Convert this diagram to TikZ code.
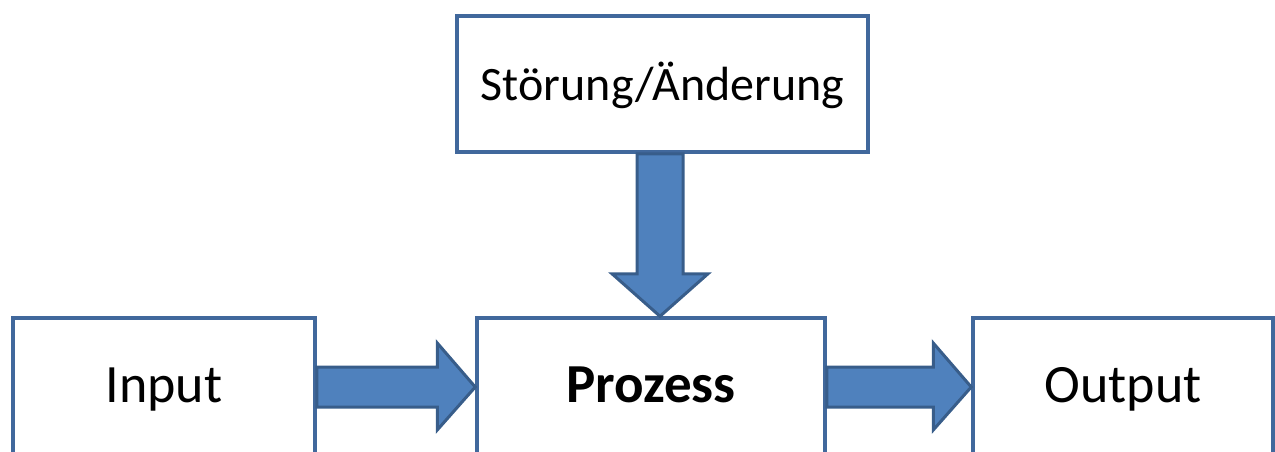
\documentclass[tikz,border=0pt]{standalone}
\usepackage{fontspec}
\setmainfont{Carlito}
\usetikzlibrary{calc}
\definecolor{boxline}{HTML}{41689C}
\definecolor{arrowfill}{HTML}{4F81BD}
\definecolor{arrowline}{HTML}{385D8A}
\tikzset{
  x=1pt, y=-1pt,
  block/.style={draw=boxline, line width=3.5pt, fill=white, rectangle,
    inner sep=0pt, text height=32pt, text depth=0pt,
    font=\fontsize{48}{56}\selectfont},
  lowblock/.style={block, minimum height=138pt, text height=30pt,
    font=\fontsize{54}{62}\selectfont},
  fatarrow/.style={fill=arrowfill, draw=arrowline, line width=3pt, line join=miter}
}
\begin{document}
\begin{tikzpicture}
\useasboundingbox (0,0) rectangle (1275,451);
\clip (0,0) rectangle (1275,451);
% boxes
\node[block, minimum width=411pt, minimum height=136pt] (stoer) at (662.5,84) {Störung/Änderung};
\node[lowblock, minimum width=302pt] (input) at (164,387) {Input};
\node[lowblock, minimum width=348pt, font=\fontsize{55}{63}\selectfont\bfseries] (proz) at (651,387) {Prozess};
\node[lowblock, minimum width=300pt] (output) at (1123,387) {Output};
% vertical block arrow from the disturbance box down into the process
\draw[fatarrow]
  ($(stoer.south)+(-25.5,0)$) -- ($(stoer.south)+(20.5,0)$)
  -- ($(stoer.south)+(20.5,120)$) -- ($(stoer.south)+(45.5,120)$)
  -- ($(proz.north)+(9,0)$) -- ($(stoer.south)+(-50.5,120)$)
  -- ($(stoer.south)+(-25.5,120)$) -- cycle;
% horizontal block arrows
\foreach \a/\b in {input/proz, proz/output}{
  \draw[fatarrow]
    ($(\a.east)+(0,-20)$) -- ($(\b.west)+(-38,-20)$)
    -- ($(\b.west)+(-38,-44)$) -- (\b.west)
    -- ($(\b.west)+(-38,43)$) -- ($(\b.west)+(-38,20)$)
    -- ($(\a.east)+(0,20)$) -- cycle;
}
\end{tikzpicture}
\end{document}
